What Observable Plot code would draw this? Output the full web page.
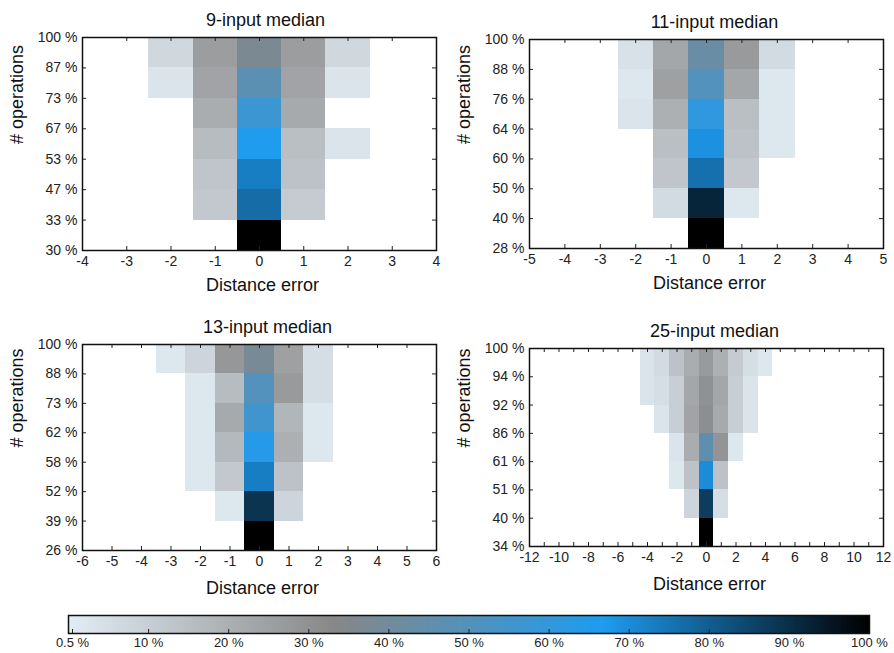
<!DOCTYPE html>
<html><head><meta charset="utf-8">
<script src="https://cdn.jsdelivr.net/npm/d3@7"></script>
<script src="https://cdn.jsdelivr.net/npm/@observablehq/plot@0.6"></script>
<style>
body{margin:0;background:#fff;}
#chart{position:relative;width:894px;height:653px;font-family:"Liberation Sans",Arial,sans-serif;}
#chart svg{position:absolute;overflow:visible;background:transparent;}
</style></head><body><div id="chart"></div>
<script>
// colour map stops (percent) and colours
const colorStops = [0, 33.3, 66.7, 100];
const colorRange = ["#e3edf5", "#878787", "#1e9cf0", "#000000"];
const colorbarTicks = [0.5, 10, 20, 30, 40, 50, 60, 70, 80, 90, 100];

// 9-input median
const title9 = "9-input median";
const yLabels9 = [30, 33, 47, 53, 67, 73, 87, 100];
const xDomain9 = [-4, 4];
const cells9 = [ // rows bottom -> top: [first distance error, percentages]
  [0, [100]],
  [-1, [12, 77, 11]],
  [-1, [13, 73, 14]],
  [-1, [16, 66, 15, 3]],
  [-1, [21, 57, 22]],
  [-2, [3, 24, 47, 24, 3]],
  [-2, [7, 26, 37, 26, 7]]
];

// 11-input median
const title11 = "11-input median";
const yLabels11 = [28, 40, 50, 60, 64, 76, 88, 100];
const xDomain11 = [-5, 5];
const cells11 = [
  [0, [100]],
  [-1, [6, 92, 2]],
  [-1, [13, 76, 12]],
  [-1, [15, 69, 14, 2]],
  [-2, [3, 20, 61, 15, 2]],
  [-2, [2, 25, 50, 23, 2]],
  [-2, [4, 23, 43, 27, 6]]
];

// 13-input median
const title13 = "13-input median";
const yLabels13 = [26, 39, 52, 58, 62, 73, 88, 100];
const xDomain13 = [-6, 6];
const cells13 = [
  [0, [100]],
  [-1, [2, 89, 8]],
  [-2, [2, 12, 73, 14]],
  [-2, [2, 17, 64, 20, 2]],
  [-2, [2, 22, 56, 18, 2]],
  [-2, [2, 16, 50, 27, 5]],
  [-3, [2, 8, 28, 38, 25, 5]]
];

// 25-input median
const title25 = "25-input median";
const yLabels25 = [34, 40, 51, 61, 86, 92, 94, 100];
const xDomain25 = [-12, 12];
const cells25 = [
  [0, [100]],
  [-1, [8, 87, 5]],
  [-2, [2, 14, 70, 14]],
  [-2, [3, 21, 46, 29, 2]],
  [-3, [3, 10, 24, 31, 22, 10, 3]],
  [-4, [3, 5, 10, 23, 30, 23, 10, 3]],
  [-4, [3, 6, 14, 21, 27, 20, 11, 5, 2]]
];

const FONT = '"Liberation Sans", Arial, sans-serif';
const colorScale = {type: "linear", domain: colorStops, range: colorRange, interpolate: "rgb", clamp: true};

function panel({title, yLabels, cells, xDomain, labelStep, left, top, width, height, mt, mb, ml, mr, titleDx, xlabDy}) {
  const data = cells.flatMap(([start, vals], row) => vals.map((v, k) => ({x: start + k, row, v})));
  const nRows = yLabels.length - 1;
  const xt = d3.range(xDomain[0], xDomain[1] + 1);
  const yt = d3.range(0, nRows + 1);
  const fh = height - mt - mb, fw = width - ml - mr;
  const svg = Plot.plot({
    width, height, marginTop: mt, marginBottom: mb, marginLeft: ml, marginRight: mr,
    x: {domain: xDomain},
    y: {domain: [0, nRows]},
    color: colorScale,
    style: {fontFamily: FONT, fontSize: "14px", color: "#222", background: "transparent", overflow: "visible"},
    marks: [
      Plot.rect(data, {x1: d => d.x - 0.5, x2: d => d.x + 0.5, y1: d => d.row, y2: d => d.row + 1, fill: "v", shapeRendering: "crispEdges"}),
      Plot.tickX(xt, {x: d => d, insetTop: fh - 4, stroke: "#222"}),
      Plot.tickX(xt, {x: d => d, insetBottom: fh - 4, stroke: "#222"}),
      Plot.tickY(yt, {y: d => d, insetRight: fw - 4, stroke: "#222"}),
      Plot.tickY(yt, {y: d => d, insetLeft: fw - 4, stroke: "#222"}),
      Plot.axisX(xt.filter(d => d % labelStep === 0), {tickSize: 0, tickPadding: 6, label: null, tickFormat: d => String(d), fontSize: 14}),
      Plot.axisY(yt, {tickSize: 0, tickPadding: 5, label: null, tickFormat: i => yLabels[i] + " %", fontSize: 14}),
      Plot.frame({stroke: "#111", strokeWidth: 1.5}),
      Plot.text([title], {text: d => d, frameAnchor: "top", lineAnchor: "bottom", dy: -12, dx: titleDx, fontSize: 18, fill: "#111"}),
      Plot.text(["Distance error"], {text: d => d, frameAnchor: "bottom", lineAnchor: "bottom", dy: xlabDy, dx: 3, fontSize: 18, fill: "#111"}),
      Plot.text(["# operations"], {text: d => d, frameAnchor: "left", rotate: -90, dx: -65, fontSize: 18, fill: "#111"})
    ]
  });
  svg.style.left = left + "px";
  svg.style.top = top + "px";
  return svg;
}

const chart = document.getElementById("chart");
chart.append(panel({title: title9, yLabels: yLabels9, cells: cells9, xDomain: xDomain9, labelStep: 1,
  left: 0, top: 0, width: 447, height: 300, mt: 37, mb: 50, ml: 82, mr: 11, titleDx: 6, xlabDy: 40}));
chart.append(panel({title: title11, yLabels: yLabels11, cells: cells11, xDomain: xDomain11, labelStep: 1,
  left: 447, top: 0, width: 447, height: 300, mt: 39, mb: 52, ml: 82, mr: 11, titleDx: 8, xlabDy: 40}));
chart.append(panel({title: title13, yLabels: yLabels13, cells: cells13, xDomain: xDomain13, labelStep: 1,
  left: 0, top: 300, width: 447, height: 305, mt: 44, mb: 55, ml: 82, mr: 11, titleDx: 8, xlabDy: 43}));
chart.append(panel({title: title25, yLabels: yLabels25, cells: cells25, xDomain: xDomain25, labelStep: 2,
  left: 447, top: 300, width: 447, height: 305, mt: 48, mb: 59, ml: 82, mr: 11, titleDx: 8, xlabDy: 43}));

// colour bar
const cb = Plot.plot({
  width: 894, height: 48, marginTop: 10, marginBottom: 20, marginLeft: 68, marginRight: 25,
  x: {domain: [0, 100]},
  y: {domain: [0, 1], axis: null},
  color: colorScale,
  style: {fontFamily: '"Liberation Sans Narrow", "Liberation Sans", Arial, sans-serif', fontSize: "13px", color: "#222", background: "transparent", overflow: "visible"},
  marks: [
    Plot.raster({fill: (x, y) => x, x1: 0, x2: 100, y1: 0, y2: 1, pixelSize: 1}),
    Plot.tickX(colorbarTicks, {x: d => d, insetTop: 14, stroke: "#222"}),
    Plot.axisX(colorbarTicks, {tickSize: 0, tickPadding: 4, label: null, tickFormat: d => d + " %", fontSize: 13}),
    Plot.frame({stroke: "#111", strokeWidth: 1.5})
  ]
});
cb.style.left = "0px";
cb.style.top = "605px";
chart.append(cb);
</script>
</body></html>
